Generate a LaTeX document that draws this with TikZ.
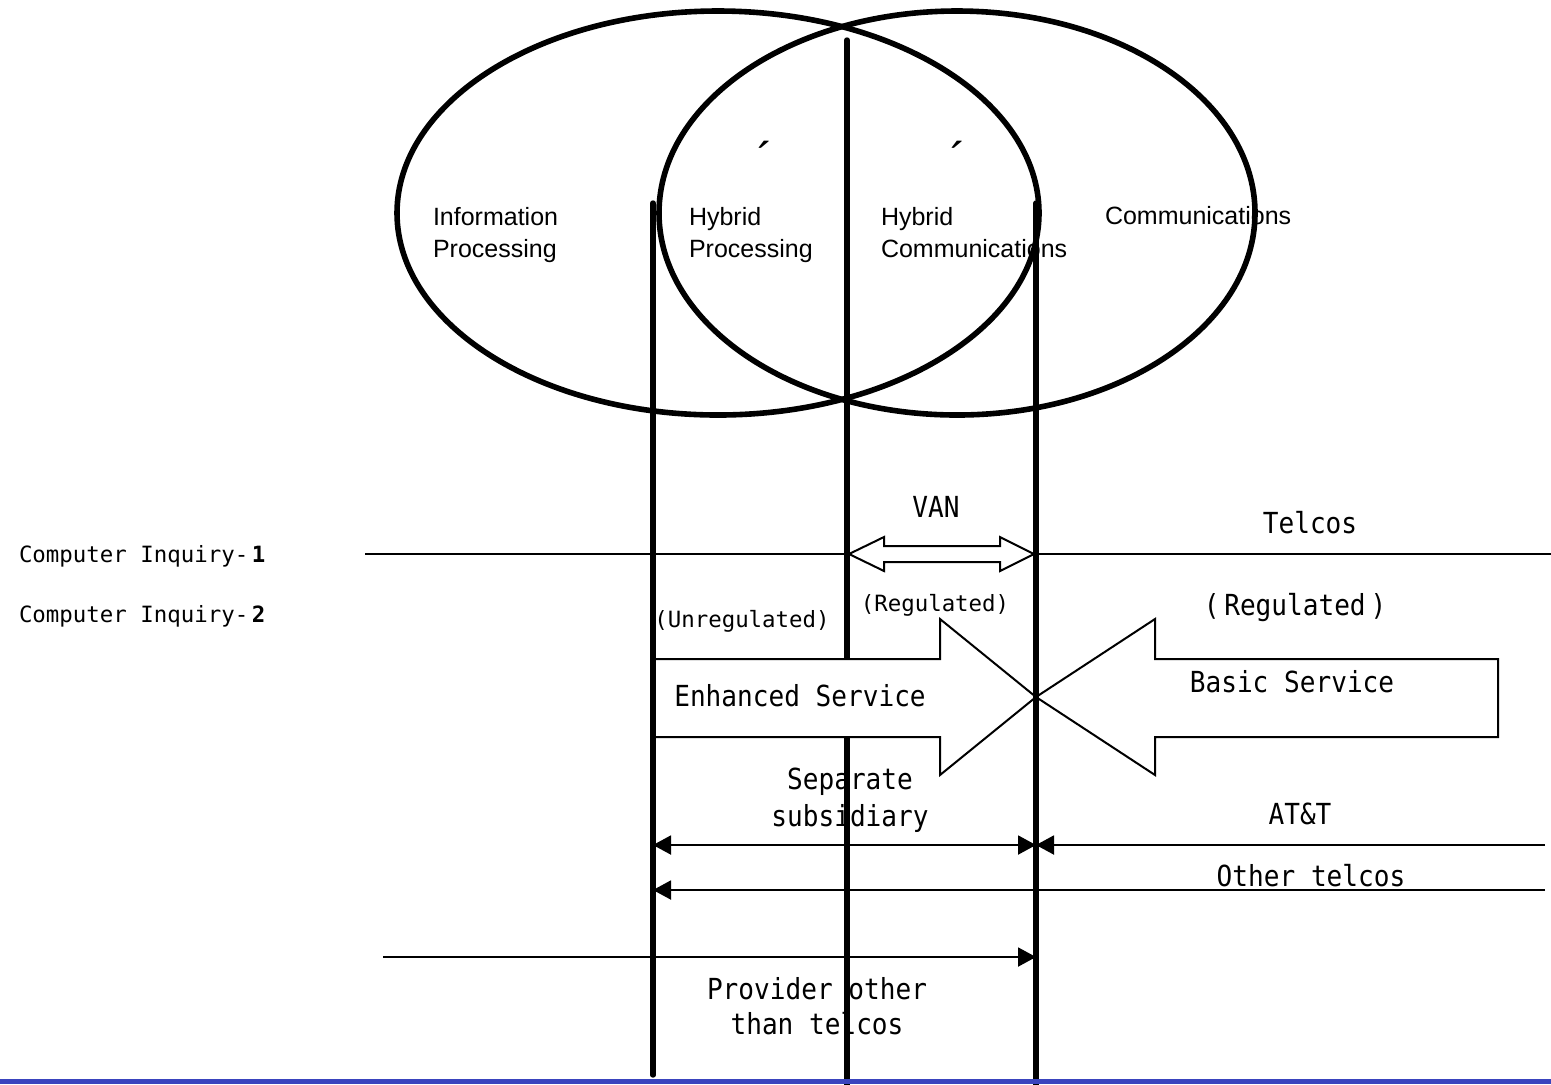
\documentclass[tikz,border=0pt]{standalone}
\usepackage{fontspec}
\usetikzlibrary{arrows.meta,positioning}
\newfontfamily\circfont{Liberation Sans}
\newfontfamily\svcfont[FakeStretch=0.9]{DejaVu Sans Mono}
\newfontfamily\inqfont{DejaVu Sans Mono}
\definecolor{edgeblue}{RGB}{58,68,190}

\begin{document}
\begin{tikzpicture}[
  x=0.5pt, y=-0.5pt, line width=1pt, >={Triangle[length=9pt,width=9.5pt]},
  bubble/.style={line width=2.8pt},
  divider/.style={line width=2.7pt, line cap=round},
  blockarrow/.style={draw=black, fill=white, line width=1pt, line join=miter},
  circtext/.style={font=\circfont\fontsize{12.5}{16}\selectfont, align=left, inner sep=0pt},
  svctext/.style={font=\svcfont\fontsize{14.5}{18.5}\selectfont, align=center, inner sep=0pt},
  inqtext/.style={font=\inqfont\fontsize{11.2}{13}\selectfont, inner sep=0pt}
]
\useasboundingbox (0,0) rectangle (1551,1084);

% the two fields
\draw[bubble] (718,213) ellipse [x radius=321, y radius=202];
\draw[bubble] (957,213) ellipse [x radius=298, y radius=202];

\node[circtext, anchor=north west] (info) at (432,206) {Information\\Processing};
\node[circtext, anchor=north west] (hproc) at (688,206) {Hybrid\\Processing};
\node[circtext, anchor=north west] (hcomm) at (880,206) {Hybrid\\Communications};
\node[circtext, anchor=base west] (comm) at (1104,224) {Communications};
\node[circtext, font=\circfont\fontsize{24}{24}\selectfont, anchor=north] (tick1) at (765,140) {´};
\node[circtext, font=\circfont\fontsize{24}{24}\selectfont, anchor=north] (tick2) at (958,140) {´};

% middle divider goes under the block arrows
\draw[divider] (847,40) -- (847,1090);

% inquiry rows
\node[inqtext, anchor=base west] (ci1) at (18,562) {Computer Inquiry-\,\textbf{1}};
\node[inqtext, anchor=base west] (ci2) at (18,622) {Computer Inquiry-\,\textbf{2}};

\coordinate (rowL) at (365,554);
\coordinate (rowR) at (1551,554);
\draw (rowL) -- (rowR);
\draw[blockarrow] (849,554) -- (884,537) -- (884,546) -- (1000,546) -- (1000,537)
  -- (1034,554) -- (1000,571) -- (1000,562) -- (884,562) -- (884,571) -- cycle;
\node[svctext, anchor=base] (van) at (936,517) {VAN};
\node[svctext, anchor=base] (telcos) at (1310,533) {Telcos};

\node[inqtext, anchor=base] (unreg) at (742,627) {(Unregulated)};
\node[inqtext, anchor=base] (regmid) at (935,611) {(Regulated)};
\node[svctext, anchor=base] (regright) at (1295,615) {(\,Regulated\,)};

% services
\draw[blockarrow] (653,659) -- (940,659) -- (940,619) -- (1036,697) -- (940,775)
  -- (940,737) -- (653,737) -- cycle;
\draw[blockarrow] (1036,697) -- (1155,619) -- (1155,659) -- (1498,659) -- (1498,737)
  -- (1155,737) -- (1155,775) -- cycle;
\node[svctext, anchor=base] (enh) at (800,706) {Enhanced Service};
\node[svctext, anchor=base] (basic) at (1292,692) {Basic Service};

% outer dividers
\foreach \x in {653,1036} {
  \draw[divider] (\x,203) -- (\x,1075);
}
\draw[divider] (1036,1075) -- (1036,1090);

% providers
\coordinate (subL) at (653,845);
\coordinate (subR) at (1036,845);
\coordinate (attR) at (1545,845);
\coordinate (othL) at (653,890);
\coordinate (othR) at (1545,890);
\coordinate (provL) at (383,957);
\coordinate (provR) at (1036,957);
\draw[<->] (subL) -- (subR);
\draw[->] (attR) -- (subR);
\draw[->] (othR) -- (othL);
\draw[->] (provL) -- (provR);

\node[svctext] (sub) at (850,800) {Separate\\subsidiary};
\node[svctext, anchor=base] (att) at (1300,824) {AT\&T};
\node[svctext, anchor=base] (oth) at (1311,886) {Other telcos};
\node[svctext, font=\svcfont\fontsize{14.5}{17.5}\selectfont] (prov) at (817,1006) {Provider other\\than telcos};

\draw[edgeblue, line width=2.5pt] (0,1081.5) -- (1551,1081.5);
\end{tikzpicture}
\end{document}
